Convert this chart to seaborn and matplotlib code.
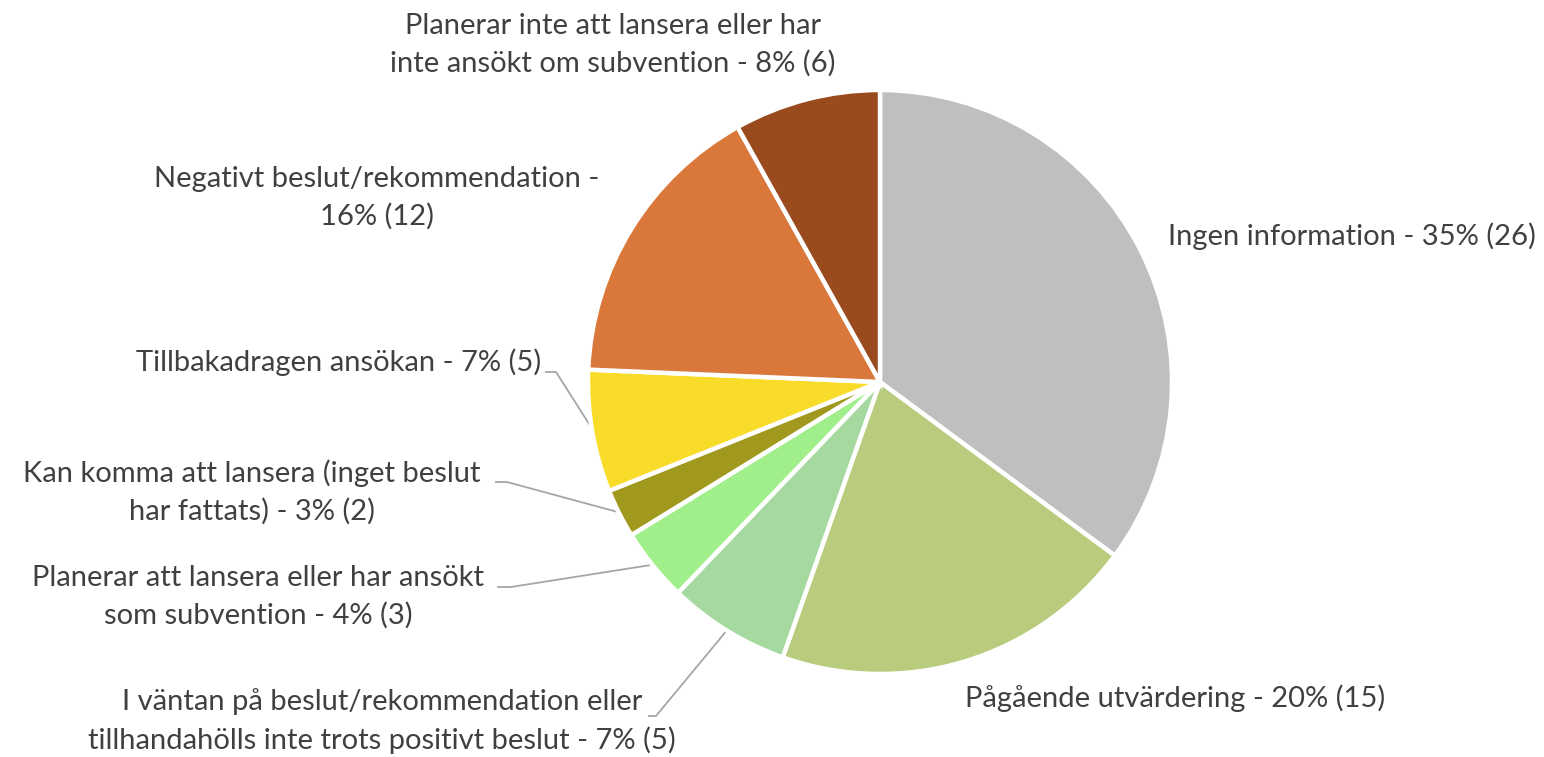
import matplotlib
matplotlib.use("Agg")
import matplotlib.pyplot as plt
import seaborn as sns
import numpy as np

# ---- data ----
categories = [
    "Ingen information",
    "Pågående utvärdering",
    "I väntan på beslut/rekommendation eller\ntillhandahölls inte trots positivt beslut",
    "Planerar att lansera eller har ansökt\nsom subvention",
    "Kan komma att lansera (inget beslut\nhar fattats)",
    "Tillbakadragen ansökan",
    "Negativt beslut/rekommendation -\n",
    "Planerar inte att lansera eller har\ninte ansökt om subvention",
]
counts = [26, 15, 5, 3, 2, 5, 12, 6]
percent_labels = ["35%", "20%", "7%", "4%", "3%", "7%", "16%", "8%"]
colors = ["#BFBFBF", "#B9CB7C", "#A5D99F", "#A1EF8A", "#A0991E", "#F9DC2A", "#DA783C", "#9A4B1E"]

sns.set_theme(style="white")
plt.rcParams["font.family"] = ["Lato", "DejaVu Sans"]

W, H = 1544, 757
CX, CY, R = 880, 382, 292

fig = plt.figure(figsize=(W / 100, H / 100), dpi=100)
ax = fig.add_axes([0, 0, 1, 1])

def px(x, y):
    return ((x - CX) / R, (CY - y) / R)

palette = sns.color_palette(colors)
wedges, _ = ax.pie(counts, colors=palette, startangle=90, counterclock=False,
                   radius=1.0, center=(0, 0),
                   wedgeprops=dict(edgecolor="white", linewidth=3.2))
ax.set_xlim(-CX / R, (W - CX) / R)
ax.set_ylim(-(H - CY) / R, CY / R)
ax.set_aspect("equal")
ax.axis("off")

def label_text(i):
    name = categories[i]
    tail = f"{percent_labels[i]} ({counts[i]})"
    if name.endswith("-\n"):
        return name + tail
    return f"{name} - {tail}"

txt_color = "#404040"
fs = 21
# label layout: (x, y, ha) in pixels
layout = [
    (1168, 236, "left"),
    (965, 698, "left"),
    (382, 721, "center"),
    (258, 597, "center"),
    (252, 492, "center"),
    (541, 362, "right"),
    (377, 198, "center"),
    (613, 45, "center"),
]
for i, (x, y, ha) in enumerate(layout):
    tx, ty = px(x, y)
    ax.text(tx, ty, label_text(i), ha=ha, va="center", multialignment="center",
            fontsize=fs, color=txt_color, linespacing=1.52)

# leader lines: (text end, elbow) pixels
leaders = {
    2: ((648, 716), (656, 716)),
    3: ((497, 587), (511, 587)),
    4: ((495, 482), (507, 482)),
    5: ((545, 372), (556, 372)),
}
for i, (p0, p1) in leaders.items():
    w = wedges[i]
    ang = np.deg2rad((w.theta1 + w.theta2) / 2)
    ex, ey = np.cos(ang) * 0.995, np.sin(ang) * 0.995
    a = px(*p0)
    b = px(*p1)
    ax.plot([a[0], b[0], ex], [a[1], b[1], ey], color="#A6A6A6", lw=1.3,
            solid_capstyle="butt", zorder=0)

fig.savefig("out.png", dpi=100, facecolor="white")
